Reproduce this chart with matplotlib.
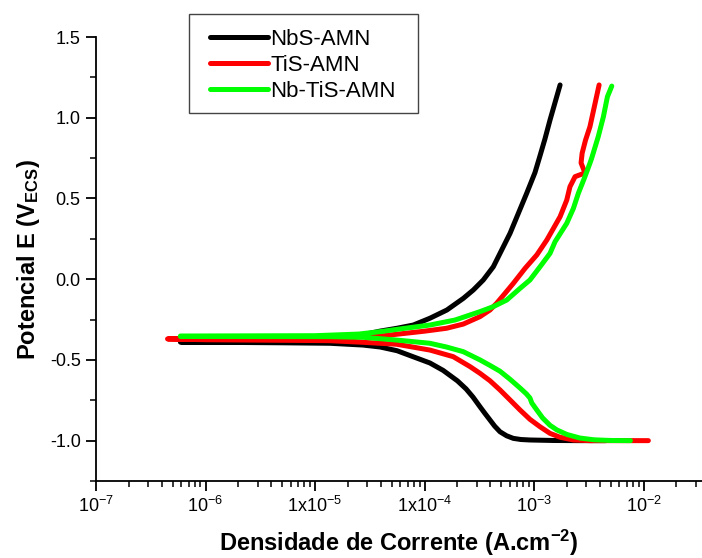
"""
Curvas de polarização potenciodinâmica (Tafel) para NbS-AMN, TiS-AMN e Nb-TiS-AMN.
"""

import numpy as np
import matplotlib
matplotlib.use("Agg")
import matplotlib.pyplot as plt
import matplotlib.patches as patches
from matplotlib.ticker import FixedLocator, FixedFormatter, LogLocator, NullFormatter, MultipleLocator

plt.rcParams['font.family'] = ['Liberation Sans', 'DejaVu Sans']
plt.rcParams['mathtext.fontset'] = 'custom'
plt.rcParams['mathtext.rm'] = 'Liberation Sans'
plt.rcParams['mathtext.it'] = 'Liberation Sans:italic'
plt.rcParams['mathtext.bf'] = 'Liberation Sans:bold'

# ------------------------------------------------------------------
# Dados (ramo catódico -> Ecorr -> ramo anódico)
# ------------------------------------------------------------------

# NbS-AMN
i_nbs = [4.5e-3, 2.5e-3, 1.5e-3, 9.18e-4, 7.59e-4, 6.47e-4, 5.62e-4, 4.89e-4,
         4.37e-4, 3.96e-4, 3.55e-4, 3.21e-4, 2.77e-4, 2.40e-4, 2.0e-4, 1.48e-4,
         1.12e-4, 7.85e-5, 5.61e-5, 3.93e-5, 2.74e-5, 1.37e-5, 5e-6, 2e-6,
         1e-6, 5.9e-7,
         5.9e-7, 5e-6, 1.2e-5, 1.8e-5, 2.7e-5, 3.9e-5, 5.6e-5, 7.9e-5, 1.12e-4,
         1.6e-4, 2.26e-4, 2.79e-4, 3.44e-4, 4.25e-4, 5.07e-4, 6.04e-4, 8.57e-4,
         1.02e-3, 1.135e-3, 1.26e-3, 1.40e-3, 1.73e-3]
E_nbs = [-1.0, -1.0, -0.999, -0.996, -0.993, -0.986, -0.970, -0.945,
         -0.91, -0.872, -0.83, -0.790, -0.730, -0.68, -0.63, -0.565,
         -0.519, -0.480, -0.443, -0.420, -0.408, -0.397, -0.394, -0.392,
         -0.391, -0.39,
         -0.388, -0.388, -0.385, -0.37, -0.345, -0.322, -0.304, -0.284, -0.242,
         -0.191, -0.119, -0.067, -0.005, 0.077, 0.181, 0.284, 0.532,
         0.66, 0.765, 0.87, 0.986, 1.203]

# TiS-AMN
i_tis = [1.107e-2, 6e-3, 3.24e-3, 2.29e-3, 1.73e-3, 1.40e-3, 1.135e-3, 9.18e-4,
         7.45e-4, 6.04e-4, 4.89e-4, 3.96e-4, 3.21e-4, 2.61e-4, 1.83e-4, 1.12e-4,
         5.57e-5, 2.76e-5, 1.37e-5, 1e-5, 1e-6, 4.5e-7,
         4.5e-7, 1e-5, 4e-5, 1e-4, 1.59e-4, 2.26e-4, 3.21e-4, 3.96e-4, 4.56e-4,
         5.43e-4, 6.47e-4, 8.28e-4, 1.06e-3, 1.31e-3, 1.73e-3, 1.99e-3, 2.13e-3,
         2.37e-3, 2.92e-3, 2.69e-3, 2.75e-3, 2.95e-3, 3.24e-3, 3.61e-3, 3.93e-3]
E_tis = [-1.0, -1.0, -1.0, -0.996, -0.979, -0.955, -0.914, -0.868,
         -0.810, -0.748, -0.686, -0.629, -0.583, -0.542, -0.480, -0.439,
         -0.403, -0.391, -0.381, -0.38, -0.375, -0.37,
         -0.37, -0.366, -0.352, -0.322, -0.304, -0.278, -0.232, -0.191, -0.149,
         -0.088, -0.026, 0.067, 0.15, 0.243, 0.387, 0.490, 0.573,
         0.635, 0.658, 0.720, 0.78, 0.86, 0.944, 1.089, 1.203]

# Nb-TiS-AMN
i_nbtis = [7.59e-3, 5.01e-3, 3.55e-3, 2.63e-3, 2.0e-3, 1.62e-3, 1.40e-3, 1.20e-3,
           1.06e-3, 9.55e-4, 9.18e-4, 8.51e-4, 7.45e-4, 6.04e-4, 4.89e-4, 3.98e-4,
           3.21e-4, 2.26e-4, 1.585e-4, 1.12e-4, 5.57e-5, 2.76e-5, 1.37e-5, 1e-6,
           5.9e-7,
           5.9e-7, 1e-5, 2.5e-5, 3.93e-5, 6.64e-5, 1.12e-4, 1.90e-4, 3.21e-4,
           4.25e-4, 5.64e-4, 7.45e-4, 9.18e-4, 1.135e-3, 1.40e-3, 1.556e-3,
           1.99e-3, 2.29e-3, 2.54e-3, 2.88e-3, 3.24e-3, 3.36e-3, 3.86e-3, 4.30e-3,
           4.68e-3, 5.13e-3]
E_nbtis = [-1.0, -0.999, -0.995, -0.984, -0.962, -0.934, -0.905, -0.86,
           -0.81, -0.767, -0.736, -0.71, -0.674, -0.62, -0.57, -0.535,
           -0.50, -0.449, -0.42, -0.397, -0.377, -0.360, -0.356, -0.355,
           -0.355,
           -0.352, -0.35, -0.34, -0.325, -0.304, -0.284, -0.253, -0.201,
           -0.170, -0.129, -0.057, -0.005, 0.077, 0.160, 0.232,
           0.346, 0.439, 0.532, 0.625, 0.718, 0.749, 0.883, 1.006,
           1.13, 1.196]

series = [("NbS-AMN", i_nbs, E_nbs, '#000000'),
          ("TiS-AMN", i_tis, E_tis, '#ff0000'),
          ("Nb-TiS-AMN", i_nbtis, E_nbtis, '#00ff00')]

x_ticks = [1e-7, 1e-6, 1e-5, 1e-4, 1e-3, 1e-2]
x_ticklabels = ['10$^{-7}$', '10$^{-6}$', '1x10$^{-5}$', '1x10$^{-4}$',
                '10$^{-3}$', '10$^{-2}$']
y_ticks = [-1.0, -0.5, 0.0, 0.5, 1.0, 1.5]

# ------------------------------------------------------------------
# Figura
# ------------------------------------------------------------------

fig = plt.figure(figsize=(7.02, 5.58), dpi=100)
ax = fig.add_axes([96/702, 77/558, 606/702, 444/558])

for nome, i, E, cor in series:
    ax.plot(i, E, color=cor, linewidth=3.6, solid_capstyle='round',
            solid_joinstyle='round', label=nome)

ax.set_xscale('log')
ax.set_xlim(1e-7, 3.42e-2)
ax.set_ylim(-1.25, 1.5)

ax.xaxis.set_major_locator(FixedLocator(x_ticks))
ax.xaxis.set_major_formatter(FixedFormatter(x_ticklabels))
ax.xaxis.set_minor_locator(LogLocator(base=10, subs=np.arange(2, 10), numticks=20))
ax.xaxis.set_minor_formatter(NullFormatter())
ax.yaxis.set_major_locator(FixedLocator(y_ticks))
ax.yaxis.set_minor_locator(MultipleLocator(0.25))
ax.set_yticklabels([f"{v:.1f}" for v in y_ticks])

ax.spines['top'].set_visible(False)
ax.spines['right'].set_visible(False)
for s in ['left', 'bottom']:
    ax.spines[s].set_linewidth(1.3)

ax.tick_params(which='major', direction='out', length=7, width=1.3,
               labelsize=13, pad=4)
ax.tick_params(which='minor', direction='out', length=4.5, width=1.1)

ax.set_xlabel("Densidade de Corrente (A.cm$^{\\mathbf{-2}}$)", fontsize=17,
              fontweight='bold', labelpad=8)
ax.set_ylabel("Potencial E (V$_{\\mathbf{ECS}}$)", fontsize=17,
              fontweight='bold', labelpad=6)

# legenda sem moldura + moldura desenhada à parte (padding assimétrico)
leg = ax.legend(loc='upper left', bbox_to_anchor=(210/702, 1 - 29/558),
                bbox_transform=fig.transFigure, borderaxespad=0,
                fontsize=16, handlelength=2.6, handletextpad=0.12,
                labelspacing=0.22, borderpad=0, frameon=False)
moldura = patches.Rectangle((189/702, 1 - 113/558), 229/702, 99/558,
                            transform=fig.transFigure, fill=False,
                            edgecolor='#444444', linewidth=1.0)
fig.add_artist(moldura)

plt.savefig("out.png", dpi=100)
plt.close()
